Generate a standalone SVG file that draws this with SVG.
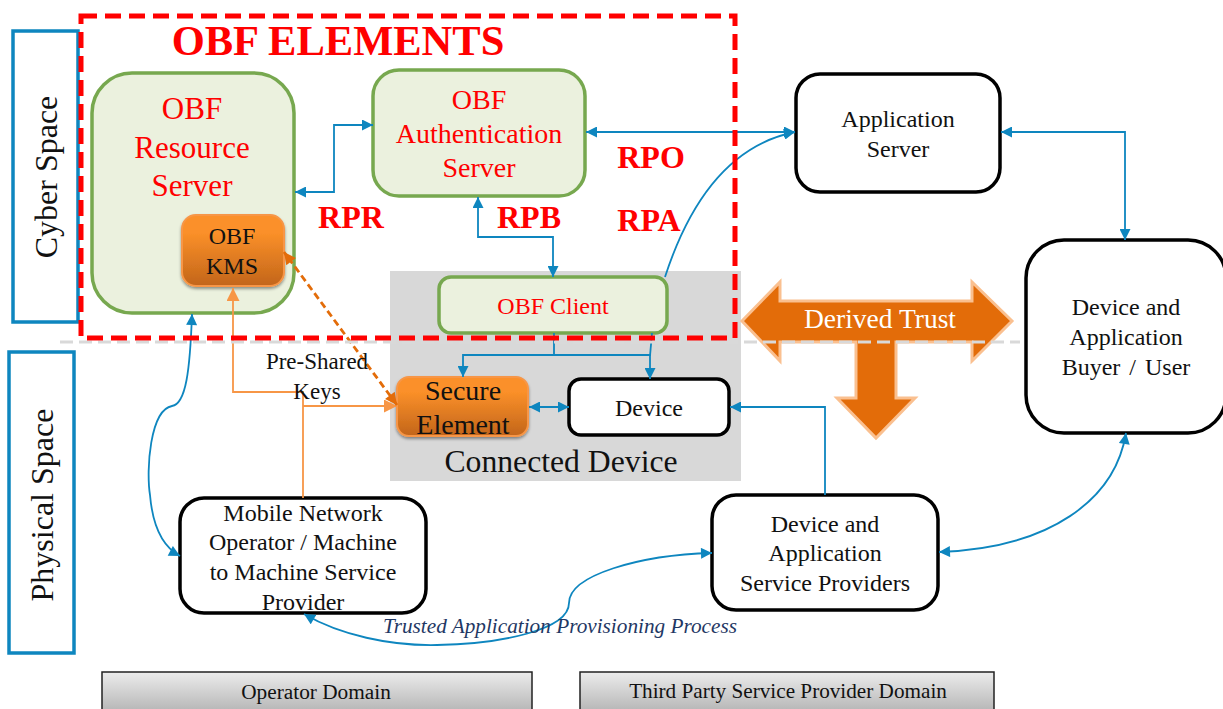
<svg xmlns="http://www.w3.org/2000/svg" width="1223" height="709" viewBox="0 0 1223 709">
<style>
text{font-family:"Liberation Serif","Times New Roman",serif;text-anchor:middle;fill:#111}
.r{fill:#f00}
.rb{fill:#f00;font-weight:bold}
.b{fill:#fff;stroke:#000;stroke-width:3.5}
.g{fill:#ebf1de;stroke:#77a84f;stroke-width:3.5}
.o{fill:url(#og);stroke:#f79646;stroke-width:2;filter:url(#sh)}
.s{fill:#fff;stroke:#0e86bf;stroke-width:3.5}
.c{fill:none;stroke:#0e86bf;stroke-width:1.8}
.ar{marker-end:url(#ab)}
.ar2{marker-end:url(#ab);marker-start:url(#ab)}
.d{fill:url(#dg);stroke:#222;stroke-width:1.5}
.oc{fill:none;stroke:#f79646;stroke-width:1.8}
</style>
<defs>
<linearGradient id="og" x1="0" y1="0" x2="0" y2="1"><stop offset="0.25" stop-color="#fb9029"/><stop offset="1" stop-color="#c2651a"/></linearGradient>
<linearGradient id="dg" x1="0" y1="0" x2="0" y2="1"><stop offset="0" stop-color="#ececec"/><stop offset="1" stop-color="#b5b5b5"/></linearGradient>
<filter id="sh" x="-10%" y="-10%" width="120%" height="125%"><feDropShadow dx="0" dy="2" stdDeviation="1.5" flood-color="#000" flood-opacity="0.4"/></filter>
<marker id="ab" viewBox="0 0 10 10" refX="10" refY="5" markerUnits="userSpaceOnUse" markerWidth="12" markerHeight="11" orient="auto-start-reverse"><path d="M0,0L10,5L0,10Z" fill="#0e86bf"/></marker>
<marker id="ao" viewBox="0 0 10 10" refX="10" refY="5" markerUnits="userSpaceOnUse" markerWidth="14" markerHeight="13" orient="auto-start-reverse"><path d="M0,0L10,5L0,10Z" fill="#f79646"/></marker>
<marker id="ad" viewBox="0 0 10 10" refX="10" refY="5" markerUnits="userSpaceOnUse" markerWidth="13" markerHeight="12" orient="auto-start-reverse"><path d="M0,0L10,5L0,10Z" fill="#e36c09"/></marker>
</defs>
<rect width="1223" height="709" fill="#fff"/>
<g id="connected-device"><rect x="390" y="271" width="351" height="210" fill="#d8d8d8"/><text x="561" y="472" font-size="31.7">Connected Device</text></g>
<g id="cyber-space"><rect class="s" x="13" y="31" width="65" height="291"/><text transform="translate(57,177) rotate(-90)" font-size="32">Cyber Space</text></g>
<g id="physical-space"><rect class="s" x="9" y="352" width="65" height="301"/><text transform="translate(53,505) rotate(-90)" font-size="32">Physical Space</text></g>
<g id="resource-server"><rect class="g" x="92" y="73" width="202" height="240" rx="40"/><text class="r" x="192" y="119" font-size="31">OBF</text><text class="r" x="192" y="158" font-size="31">Resource</text><text class="r" x="192" y="196" font-size="31">Server</text></g>
<g id="kms"><rect class="o" x="182" y="215" width="102" height="71" rx="14"/><text x="232" y="244" font-size="24">OBF</text><text x="232" y="274" font-size="24">KMS</text></g>
<g id="auth-server"><rect class="g" x="373" y="70" width="212" height="126" rx="26"/><text class="r" x="479" y="109" font-size="28">OBF</text><text class="r" x="479" y="143" font-size="28">Authentication</text><text class="r" x="479" y="177" font-size="28">Server</text></g>
<g id="obf-client"><rect class="g" x="439" y="277" width="228" height="56" rx="12"/><text class="r" x="553" y="314" font-size="24">OBF Client</text></g>
<g id="secure-element"><rect class="o" x="397" y="377" width="131" height="59" rx="12"/><text x="463" y="400" font-size="28">Secure</text><text x="463" y="434" font-size="28">Element</text></g>
<g id="device"><rect class="b" x="569" y="379" width="160" height="56" rx="12"/><text x="649" y="416" font-size="24">Device</text></g>
<g id="application-server"><rect class="b" x="796" y="74" width="204" height="118" rx="24"/><text x="898" y="127" font-size="24">Application</text><text x="898" y="157" font-size="24">Server</text></g>
<g id="buyer"><rect class="b" x="1026" y="240" width="200" height="193" rx="38"/><text x="1126" y="315" font-size="24">Device and</text><text x="1126" y="345" font-size="24">Application</text><text x="1126" y="375" font-size="24" word-spacing="3">Buyer / User</text></g>
<g id="mno"><rect class="b" x="180" y="498" width="246" height="115" rx="24"/><text x="303" y="521" font-size="24">Mobile Network</text><text x="303" y="550" font-size="24">Operator / Machine</text><text x="303" y="580" font-size="24">to Machine Service</text><text x="303" y="610" font-size="24">Provider</text></g>
<g id="dasp"><rect class="b" x="712" y="495" width="226" height="115" rx="24"/><text x="825" y="532" font-size="24">Device and</text><text x="825" y="561" font-size="24">Application</text><text x="825" y="591" font-size="24">Service Providers</text></g>
<g id="operator-domain"><rect class="d" x="102" y="672" width="430" height="40"/><text x="316" y="699" font-size="21.3">Operator Domain</text></g>
<g id="third-party-domain"><rect class="d" x="580" y="672" width="414" height="40"/><text x="788" y="698" font-size="21.2">Third Party Service Provider Domain</text></g>
<g id="connectors">
<path class="c ar2" d="M295,192H334V125H373"/>
<path class="c ar2" d="M478,197V237H553V277"/>
<path class="c ar2" d="M586,132H795"/>
<path class="c ar" d="M665,277C690,200 730,145 795,132"/>
<path class="c ar2" d="M1001,132H1125V240"/>
<path class="c" d="M554,333V356"/>
<path class="c ar" d="M554,355H463V377"/>
<path class="c ar" d="M554,355H650V379"/>
<path class="c" d="M652,333L650,356"/>
<path class="c ar2" d="M529,407H569"/>
<path class="c ar" d="M825,495V407H730"/>
<path class="c ar2" d="M192,314C190,370 186,404 172,406C150,410 146,470 150,495C153,530 165,548 180,556"/>
<path class="c ar2" d="M304,614C340,635 390,646 437,645C500,644 569,630 569,603C569,575 640,555 712,553"/>
<path class="c ar2" d="M1126,433C1115,500 1050,548 939,552"/>
<path class="oc" d="M303,498V392H233V288" marker-end="url(#ao)"/>
<path class="oc" d="M303,406H397" marker-end="url(#ao)"/>
<path d="M397,405L284,252" fill="none" stroke="#e36c09" stroke-width="2.8" stroke-dasharray="7 4" marker-start="url(#ad)" marker-end="url(#ad)"/>
</g>
<g id="derived-trust"><path d="M742,321L780,282V301H972V282L1012,321L972,361V342H896V398H915L876,438L837,398H856V342H780V361Z" fill="#e36c09" stroke="#fac090" stroke-width="3"/><text x="880" y="328" font-size="27.5" style="fill:#fff">Derived Trust</text></g>
<path id="space-divider" d="M60,342H1020" fill="none" stroke="#d9d9d9" stroke-width="3" stroke-dasharray="13 6"/>
<g id="obf-elements"><rect x="81" y="16" width="654" height="322" fill="none" stroke="#f00" stroke-width="5" stroke-dasharray="16 8"/><text class="rb" x="338" y="55" font-size="42.5">OBF ELEMENTS</text></g>
<g id="labels">
<text class="rb" x="351" y="228" font-size="32">RPR</text>
<text class="rb" x="529" y="228" font-size="32">RPB</text>
<text class="rb" x="651" y="168" font-size="32">RPO</text>
<text class="rb" x="649" y="231" font-size="32">RPA</text>
<text x="317" y="369" font-size="23">Pre-Shared</text>
<text x="317" y="399" font-size="23">Keys</text>
<text x="560" y="633" font-size="21" font-style="italic" textLength="354" lengthAdjust="spacingAndGlyphs" style="fill:#1f3864">Trusted Application Provisioning Process</text>
</g>
</svg>
